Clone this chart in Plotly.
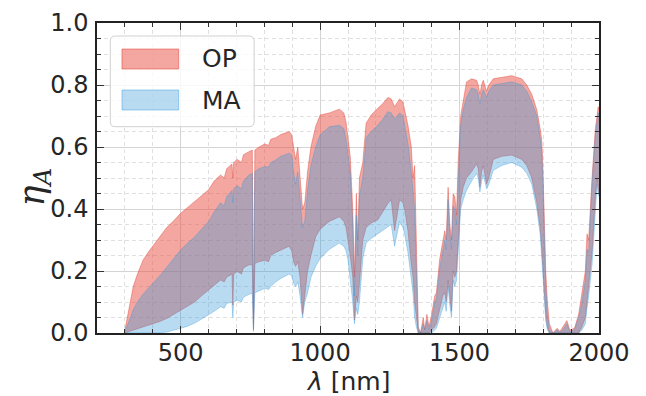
import plotly.graph_objects as go

# ---------------- data ----------------
wavelength = [298, 305, 312, 320, 330, 345, 365, 385, 400, 425, 450, 475, 500, 525, 550, 575, 600,
              620, 643, 656, 665, 684, 687, 690, 703, 718, 725, 745, 757, 761, 766, 781, 802, 815,
              823, 841, 859, 889, 898, 905, 912, 920, 928, 937, 945, 955, 967, 984, 1000, 1033,
              1069, 1085, 1093, 1100, 1108, 1117, 1123, 1130, 1135, 1141, 1153, 1165, 1183, 1207,
              1225, 1243, 1255, 1267, 1285, 1297, 1303, 1315, 1327, 1333, 1339, 1345, 1352, 1360,
              1370, 1375, 1383, 1390, 1400, 1411, 1417, 1429, 1440, 1447, 1452, 1459, 1465, 1471,
              1477, 1483, 1489, 1495, 1504, 1513, 1525, 1543, 1561, 1567, 1573, 1579, 1585, 1597,
              1605, 1621, 1651, 1687, 1723, 1741, 1759, 1777, 1789, 1795, 1799, 1804, 1809, 1815,
              1822, 1835, 1850, 1860, 1870, 1885, 1895, 1912, 1927, 1939, 1951, 1957, 1963, 1975,
              1987, 1993, 1997, 2000]

op_upper = [0.0, 0.035, 0.07, 0.10, 0.15, 0.19, 0.235, 0.262, 0.28, 0.31, 0.34, 0.362, 0.386, 0.405, 0.425, 0.443, 0.462,
            0.49, 0.51, 0.50, 0.53, 0.545, 0.50, 0.55, 0.56, 0.55, 0.575, 0.585, 0.59, 0.03, 0.59, 0.60, 0.61, 0.605,
            0.625, 0.63, 0.64, 0.65, 0.64, 0.60, 0.56, 0.60, 0.50, 0.40, 0.42, 0.52, 0.60, 0.666, 0.703, 0.71,
            0.722, 0.71, 0.68, 0.623, 0.57, 0.40, 0.18, 0.45, 0.30, 0.50, 0.55, 0.677, 0.703, 0.725,
            0.74, 0.76, 0.755, 0.73, 0.755, 0.745, 0.72, 0.67, 0.60, 0.50, 0.54, 0.30, 0.02, 0.0,
            0.05, 0.01, 0.06, 0.02, 0.06, 0.12, 0.13, 0.24, 0.30, 0.33, 0.30, 0.47, 0.35, 0.30,
            0.45, 0.44, 0.38, 0.55, 0.70, 0.75, 0.81, 0.82, 0.815, 0.80, 0.77, 0.80, 0.815, 0.78,
            0.80, 0.82, 0.825, 0.83, 0.82, 0.80, 0.77, 0.72, 0.66, 0.62, 0.53, 0.36, 0.20, 0.10,
            0.03, 0.0, 0.015, 0.005, 0.02, 0.04, 0.01, 0.015, 0.06, 0.13, 0.20, 0.32, 0.30, 0.50,
            0.66, 0.70, 0.73, 0.72]

ma_upper = [0.0, 0.015, 0.035, 0.05, 0.075, 0.10, 0.125, 0.145, 0.158, 0.185, 0.212, 0.24, 0.268, 0.29, 0.31, 0.335, 0.359,
            0.39, 0.42, 0.41, 0.44, 0.46, 0.42, 0.465, 0.475, 0.465, 0.49, 0.51, 0.515, 0.02, 0.52, 0.53, 0.537, 0.535,
            0.55, 0.558, 0.57, 0.58, 0.575, 0.52, 0.48, 0.52, 0.44, 0.34, 0.36, 0.46, 0.54, 0.60, 0.639, 0.665,
            0.67, 0.66, 0.623, 0.57, 0.52, 0.35, 0.12, 0.38, 0.25, 0.44, 0.50, 0.63, 0.65, 0.67,
            0.69, 0.714, 0.71, 0.69, 0.71, 0.70, 0.67, 0.61, 0.52, 0.45, 0.40, 0.20, 0.01, 0.0,
            0.03, 0.01, 0.04, 0.01, 0.04, 0.10, 0.11, 0.21, 0.27, 0.30, 0.27, 0.43, 0.32, 0.27,
            0.41, 0.40, 0.35, 0.50, 0.67, 0.72, 0.76, 0.79, 0.785, 0.77, 0.74, 0.77, 0.785, 0.76,
            0.78, 0.80, 0.805, 0.81, 0.80, 0.78, 0.745, 0.70, 0.63, 0.58, 0.48, 0.30, 0.15, 0.06,
            0.01, 0.0, 0.01, 0.003, 0.01, 0.03, 0.005, 0.01, 0.05, 0.10, 0.17, 0.27, 0.26, 0.48,
            0.64, 0.68, 0.71, 0.70]

op_lower = [0.0, 0.002, 0.004, 0.006, 0.009, 0.013, 0.018, 0.024, 0.028, 0.037, 0.047, 0.06, 0.074, 0.088, 0.10, 0.12, 0.139,
            0.155, 0.171, 0.165, 0.18, 0.19, 0.09, 0.19, 0.198, 0.19, 0.21, 0.22, 0.22, 0.01, 0.225, 0.23, 0.235, 0.23,
            0.25, 0.26, 0.268, 0.28, 0.265, 0.23, 0.215, 0.23, 0.18, 0.06, 0.12, 0.20, 0.25, 0.31, 0.335, 0.36,
            0.375, 0.36, 0.34, 0.30, 0.25, 0.18, 0.042, 0.12, 0.10, 0.16, 0.30, 0.34, 0.355, 0.365,
            0.39, 0.418, 0.43, 0.33, 0.43, 0.42, 0.40, 0.33, 0.22, 0.18, 0.10, 0.05, 0.0, 0.0,
            0.0, 0.0, 0.0, 0.0, 0.01, 0.02, 0.03, 0.08, 0.12, 0.13, 0.10, 0.17, 0.12, 0.07,
            0.20, 0.18, 0.20, 0.30, 0.43, 0.47, 0.50, 0.52, 0.545, 0.53, 0.47, 0.52, 0.54, 0.48,
            0.50, 0.56, 0.57, 0.574, 0.56, 0.54, 0.50, 0.42, 0.34, 0.27, 0.20, 0.12, 0.06, 0.02,
            0.0, 0.0, 0.0, 0.0, 0.0, 0.0, 0.0, 0.0, 0.0, 0.02, 0.05, 0.10, 0.15, 0.26,
            0.44, 0.50, 0.47, 0.45]

ma_lower = [0.0, 0.0, 0.0, 0.0, 0.0, 0.0, 0.0, 0.0, 0.0, 0.001, 0.003, 0.008, 0.015, 0.022, 0.032, 0.045, 0.058,
            0.07, 0.085, 0.08, 0.095, 0.10, 0.05, 0.10, 0.106, 0.10, 0.115, 0.125, 0.128, 0.005, 0.13, 0.135, 0.144, 0.14,
            0.15, 0.165, 0.176, 0.19, 0.185, 0.16, 0.15, 0.165, 0.12, 0.05, 0.10, 0.13, 0.18, 0.215, 0.24, 0.27,
            0.29, 0.28, 0.265, 0.235, 0.18, 0.10, 0.03, 0.08, 0.06, 0.10, 0.24, 0.29, 0.305, 0.32,
            0.33, 0.34, 0.35, 0.28, 0.36, 0.34, 0.32, 0.26, 0.17, 0.13, 0.05, 0.02, 0.0, 0.0,
            0.0, 0.0, 0.0, 0.0, 0.0, 0.01, 0.015, 0.05, 0.08, 0.10, 0.07, 0.15, 0.09, 0.05,
            0.17, 0.15, 0.17, 0.26, 0.40, 0.43, 0.46, 0.49, 0.515, 0.50, 0.455, 0.49, 0.51, 0.465,
            0.48, 0.525, 0.54, 0.55, 0.535, 0.515, 0.48, 0.40, 0.32, 0.24, 0.17, 0.10, 0.04, 0.01,
            0.0, 0.0, 0.0, 0.0, 0.0, 0.0, 0.0, 0.0, 0.0, 0.01, 0.03, 0.08, 0.12, 0.22,
            0.42, 0.48, 0.45, 0.44]

series_names = ["OP", "MA"]
x_ticks = [500, 1000, 1500, 2000]
y_ticks = [0.0, 0.2, 0.4, 0.6, 0.8, 1.0]

# ---------------- styling ----------------
OP_FILL = "rgba(232,80,66,0.50)"
OP_LINE = "rgba(225,70,58,0.55)"
MA_FILL = "rgba(52,152,219,0.35)"
MA_LINE = "rgba(52,152,219,0.45)"
FONT = "DejaVu Sans"
TXT = "#262626"

fig = go.Figure()
for lower, upper, fill, line in [(op_lower, op_upper, OP_FILL, OP_LINE),
                                 (ma_lower, ma_upper, MA_FILL, MA_LINE)]:
    fig.add_trace(go.Scatter(x=wavelength, y=lower, mode="lines",
                             line=dict(color=line, width=0.8), showlegend=False,
                             hoverinfo="skip"))
    fig.add_trace(go.Scatter(x=wavelength, y=upper, mode="lines", fill="tonexty",
                             fillcolor=fill, line=dict(color=line, width=0.8),
                             showlegend=False, hoverinfo="skip"))

axis_common = dict(
    showline=True, linecolor="#222222", linewidth=1.5, mirror="ticks",
    ticks="inside", ticklen=7, tickwidth=1.2, tickcolor="#333333",
    showgrid=True, gridcolor="#d4d4d4", gridwidth=1.1, zeroline=False,
    tickfont=dict(family=FONT, size=24, color=TXT), automargin=False,
)

fig.update_xaxes(range=[200, 2000], tickvals=x_ticks, ticklabelstandoff=-3,
                 minor=dict(dtick=100, tick0=0, ticks="inside", ticklen=4, tickcolor="#333333",
                            showgrid=True, gridcolor="#e0e0e0", griddash="4px,3px", gridwidth=0.8),
                 **axis_common)
fig.update_yaxes(range=[0, 1], tickvals=y_ticks, tickformat=".1f", ticklabelstandoff=2,
                 minor=dict(dtick=0.05, tick0=0, ticks="inside", ticklen=4, tickcolor="#333333",
                            showgrid=True, gridcolor="#e0e0e0", griddash="4px,3px", gridwidth=0.8),
                 **axis_common)

# ----- custom legend (matplotlib-like) -----
def rounded_rect(x0, y0, x1, y1, rx, ry):
    return (f"M{x0+rx},{y0} L{x1-rx},{y0} Q{x1},{y0} {x1},{y0+ry} "
            f"L{x1},{y1-ry} Q{x1},{y1} {x1-rx},{y1} L{x0+rx},{y1} "
            f"Q{x0},{y1} {x0},{y1-ry} L{x0},{y0+ry} Q{x0},{y0} {x0+rx},{y0} Z")

shapes = [
    dict(type="path", xref="paper", yref="paper",
         path=rounded_rect(0.0265, 0.6655, 0.313, 0.958, 0.010, 0.016),
         fillcolor="rgba(255,255,255,0.8)", line=dict(color="#d0d0d0", width=1)),
    dict(type="rect", xref="paper", yref="paper", x0=0.0498, x1=0.1627, y0=0.8516, y1=0.916,
         fillcolor=OP_FILL, line=dict(color=OP_LINE, width=1)),
    dict(type="rect", xref="paper", yref="paper", x0=0.0498, x1=0.1627, y0=0.7194, y1=0.7839,
         fillcolor=MA_FILL, line=dict(color=MA_LINE, width=1)),
]
annotations = [
    dict(text=series_names[0], xref="paper", yref="paper", x=0.205, y=0.8839,
         xanchor="left", yanchor="middle", showarrow=False,
         font=dict(family=FONT, size=25, color=TXT)),
    dict(text=series_names[1], xref="paper", yref="paper", x=0.205, y=0.7516,
         xanchor="left", yanchor="middle", showarrow=False,
         font=dict(family=FONT, size=25, color=TXT)),
    dict(text="<i>λ</i> [nm]", xref="paper", yref="paper", x=0.5, y=-0.155,
         xanchor="center", yanchor="middle", showarrow=False,
         font=dict(family=FONT, size=25, color=TXT)),
    dict(text="<i>η</i><sub><i>A</i></sub>", xref="paper", yref="paper", x=-0.125, y=0.47,
         xanchor="center", yanchor="middle", showarrow=False, textangle=-90,
         font=dict(family="DejaVu Serif", size=35, color=TXT)),
]

# the page body adds an 8px offset, so the margins are shifted to compensate
fig.update_layout(
    width=646, height=396,
    margin=dict(l=89, r=55, t=15, b=71, autoexpand=False),
    paper_bgcolor="white", plot_bgcolor="white",
    shapes=shapes, annotations=annotations,
    showlegend=False,
)

fig.write_html("out.html")
